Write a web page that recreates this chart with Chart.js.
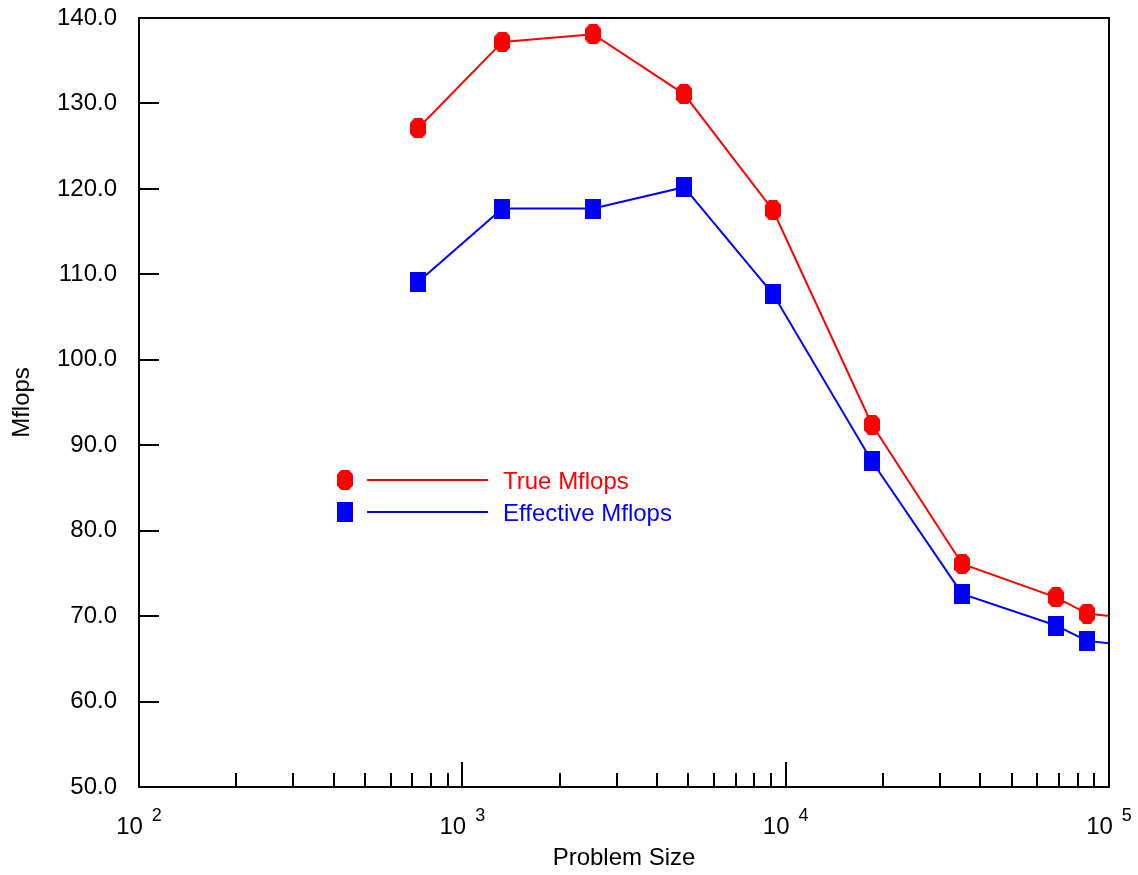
<!DOCTYPE html>
<html><head><meta charset="utf-8">
<script src="https://cdn.jsdelivr.net/npm/chart.js@4"></script>
<style>html,body{margin:0;padding:0;background:#fff}#wrap{width:1138px;height:875px}</style>
</head><body><div id="wrap"><canvas id="c" width="1138" height="875"></canvas></div>
<script>
// ---- data ----
const problemSize     = [730, 1330, 2540, 4850, 9140, 18500, 35150, 68600, 85500, 120000];
const trueMflops      = [127.1, 137.2, 138.1, 131.1, 117.5, 92.4, 76.1, 72.2, 70.3, 69.7];
const effectiveMflops = [109.1, 117.7, 117.7, 120.2, 107.7, 88.1, 72.6, 68.9, 67.1, 66.5];
const seriesNames     = ['True Mflops', 'Effective Mflops'];
const yTickValues     = [50, 60, 70, 80, 90, 100, 110, 120, 130, 140];
const xDecades        = [100, 1000, 10000, 100000];
const xExponents      = ['2', '3', '4', '5'];
const xTitle = 'Problem Size';
const yTitle = 'Mflops';

// ---- styles ----
const RED = '#ff0000', BLUE = '#0000ff';
const FONT = '"Liberation Sans", Arial, sans-serif';

function makeMarker(kind, color) {
  const w = 16, h = 20;
  const cv = document.createElement('canvas');
  cv.width = w; cv.height = h;
  const g = cv.getContext('2d');
  g.fillStyle = color;
  if (kind === 'oct') {
    const cx = w / 2, cy = h / 2, a = 4.5, b = 5.5;
    g.beginPath();
    g.moveTo(cx - a + 0.5, 0); g.lineTo(cx + a - 0.5, 0);
    g.lineTo(w, cy - b); g.lineTo(w, cy + b);
    g.lineTo(cx + a - 0.5, h); g.lineTo(cx - a + 0.5, h);
    g.lineTo(0, cy + b); g.lineTo(0, cy - b);
    g.closePath(); g.fill();
  } else {
    g.fillRect(0, 0, w, h);
  }
  return cv;
}
const redMarker = makeMarker('oct', RED);
const blueMarker = makeMarker('sq', BLUE);

const toPts = (ys) => problemSize.map((x, i) => ({ x: x, y: ys[i] }));

const framePlugin = {
  id: 'frame',
  afterDraw(chart) {
    const ctx = chart.ctx, ca = chart.chartArea;
    const xs = chart.scales.x, ys = chart.scales.y;
    ctx.save();
    ctx.strokeStyle = '#000';
    ctx.lineWidth = 2;
    ctx.strokeRect(ca.left, ca.top, ca.right - ca.left, ca.bottom - ca.top);
    // y ticks (inward)
    ctx.beginPath();
    yTickValues.forEach(v => {
      const y = Math.round(ys.getPixelForValue(v));
      ctx.moveTo(ca.left, y); ctx.lineTo(ca.left + 20, y);
    });
    // x ticks (inward), major + minor
    for (let d = 0; d < xDecades.length; d++) {
      const base = xDecades[d];
      const px = Math.round(xs.getPixelForValue(base));
      ctx.moveTo(px, ca.bottom); ctx.lineTo(px, ca.bottom - 25);
      if (d < xDecades.length - 1) {
        for (let m = 2; m <= 9; m++) {
          const p = Math.round(xs.getPixelForValue(base * m));
          ctx.moveTo(p, ca.bottom); ctx.lineTo(p, ca.bottom - 14);
        }
      }
    }
    ctx.stroke();
    // x tick labels 10^n
    ctx.fillStyle = '#000';
    ctx.textBaseline = 'alphabetic';
    ctx.textAlign = 'left';
    xDecades.forEach((v, i) => {
      const px = xs.getPixelForValue(v);
      ctx.font = '24px ' + FONT;
      const wBase = ctx.measureText('10').width;
      ctx.font = '18px ' + FONT;
      const wExp = ctx.measureText(xExponents[i]).width;
      const gap = 9;
      const total = wBase + gap + wExp;
      const x0 = px - total / 2;
      ctx.font = '24px ' + FONT;
      ctx.fillText('10', x0, 834);
      ctx.font = '18px ' + FONT;
      ctx.fillText(xExponents[i], x0 + wBase + gap, 821);
    });
    // legend
    const items = [
      { name: seriesNames[0], color: RED, marker: redMarker, y: 480 },
      { name: seriesNames[1], color: BLUE, marker: blueMarker, y: 512 }
    ];
    items.forEach(it => {
      ctx.drawImage(it.marker, 345 - 8, it.y - 10);
      ctx.strokeStyle = it.color;
      ctx.lineWidth = 2;
      ctx.beginPath(); ctx.moveTo(367, it.y); ctx.lineTo(488, it.y); ctx.stroke();
      ctx.fillStyle = it.color;
      ctx.font = '24px ' + FONT;
      ctx.textBaseline = 'middle';
      ctx.fillText(it.name, 503, it.y + 2);
    });
    ctx.restore();
  }
};

new Chart(document.getElementById('c'), {
  type: 'line',
  data: {
    datasets: [
      { label: seriesNames[0], data: toPts(trueMflops), borderColor: RED, backgroundColor: RED,
        borderWidth: 2, pointStyle: redMarker, pointRadius: 8, tension: 0, fill: false },
      { label: seriesNames[1], data: toPts(effectiveMflops), borderColor: BLUE, backgroundColor: BLUE,
        borderWidth: 2, pointStyle: blueMarker, pointRadius: 8, tension: 0, fill: false }
    ]
  },
  options: {
    responsive: false,
    animation: false,
    events: [],
    layout: { padding: { top: 18, right: 29, left: 0, bottom: 0 } },
    plugins: { legend: { display: false }, tooltip: { enabled: false } },
    scales: {
      x: {
        type: 'logarithmic', min: 100, max: 100000, position: 'bottom',
        grid: { display: false, drawTicks: false }, border: { display: false },
        ticks: { display: false },
        title: { display: true, text: xTitle, color: '#000', font: { family: FONT, size: 24 }, padding: { top: 0, bottom: 2 } },
        afterFit: s => { s.height = 88; s.paddingLeft = 0; s.paddingRight = 0; }
      },
      y: {
        type: 'linear', min: 50, max: 140,
        grid: { display: false, drawTicks: false }, border: { display: false },
        ticks: { stepSize: 10, padding: 22, color: '#000', font: { family: FONT, size: 24 },
                 callback: v => Number(v).toFixed(1) },
        title: { display: true, text: yTitle, color: '#000', font: { family: FONT, size: 24 }, padding: { top: 8, bottom: 0 } },
        afterFit: s => { s.width = 139; s.paddingTop = 0; s.paddingBottom = 0; }
      }
    }
  },
  plugins: [framePlugin]
});
</script>
</body></html>
